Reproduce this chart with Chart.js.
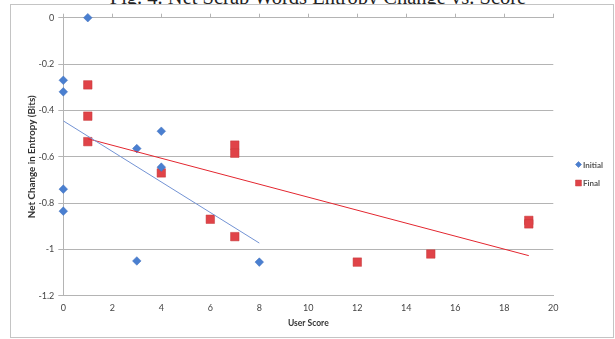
<!DOCTYPE html>
<html>
<head>
<meta charset="utf-8">
<script src="https://cdn.jsdelivr.net/npm/chart.js@4.4.0/dist/chart.umd.min.js"></script>
<style>
  body { margin: 0; background: #fff; overflow: hidden; }
  #wrap { position: relative; width: 615px; height: 339px; }
  #marco { position: absolute; left: 10px; top: 4px; width: 602px; height: 332px; border: 1px solid #c4c4c4; background: #fff; }
  #titulo { position: absolute; left: 0; top: -13px; width: 636px; text-align: center; font: 20.5px "Liberation Serif", serif; line-height: 20px; color: #222; white-space: nowrap; }
  #grafico { position: absolute; left: 0; top: 0; }
</style>
</head>
<body>
<div id="wrap">
  <div id="titulo">Fig. 4. Net Scrap Words Entropy Change vs. Score</div>
  <div id="marco"></div>
  <canvas id="grafico" width="615" height="339"></canvas>
</div>
<script>
// datos
const inicialX = [1, 0, 0, 4, 3, 4, 0, 0, 3, 8];
const inicialY = [0, -0.27, -0.32, -0.49, -0.565, -0.645, -0.74, -0.835, -1.05, -1.055];

const finalX = [1, 1, 1, 4, 6, 7, 7, 7, 12, 15, 19, 19];
const finalY = [-0.29, -0.425, -0.535, -0.67, -0.87, -0.945, -0.55, -0.585, -1.055, -1.02, -0.875, -0.89];

const ticksX = [0, 2, 4, 6, 8, 10, 12, 14, 16, 18, 20];
const ticksY = [0, -0.2, -0.4, -0.6, -0.8, -1, -1.2];

const nombres = ["Initial", "Final"];

const azul = "#4a7fd0";
const rojo = "#e04348";

function puntos(xs, ys) {
  return xs.map((x, i) => ({ x: x, y: ys[i] }));
}

// linea de tendencia (minimos cuadrados), igual que la de Excel
function tendencia(xs, ys) {
  const n = xs.length;
  const mx = xs.reduce((a, b) => a + b, 0) / n;
  const my = ys.reduce((a, b) => a + b, 0) / n;
  let sxy = 0, sxx = 0;
  xs.forEach((x, i) => {
    sxy += (x - mx) * (ys[i] - my);
    sxx += (x - mx) * (x - mx);
  });
  const m = sxy / sxx;
  const b = my - m * mx;
  const x0 = Math.min(...xs), x1 = Math.max(...xs);
  return [{ x: x0, y: m * x0 + b }, { x: x1, y: m * x1 + b }];
}

const gris = "#b4b4b4";
const letra = "Lato, 'Liberation Sans', sans-serif";

// leyenda dibujada a mano a la derecha
const leyenda = {
  id: "leyenda",
  afterDraw(chart) {
    const ctx = chart.ctx;
    ctx.save();
    ctx.font = "bold 8px " + letra;
    ctx.textBaseline = "middle";
    let y = 164.5;
    chart.data.datasets.forEach(ds => {
      if (!nombres.includes(ds.label)) return;
      ctx.fillStyle = ds.backgroundColor;
      ctx.strokeStyle = ds.borderColor;
      ctx.lineWidth = 0.5;
      Chart.helpers.drawPoint(ctx, { pointStyle: ds.pointStyle, radius: ds.pointStyle === "rect" ? 4.2 : 3, rotation: 0, borderWidth: 0.5 }, 578.5, y);
      ctx.fillStyle = "#555";
      ctx.fillText(ds.label, 583, y + 0.5);
      y += 18.5;
    });
    ctx.restore();
  }
};

new Chart(document.getElementById("grafico"), {
  type: "scatter",
  data: {
    datasets: [
      {
        label: nombres[0],
        data: puntos(inicialX, inicialY),
        pointStyle: "rectRot",
        pointRadius: 4.3,
        backgroundColor: azul,
        borderColor: "#3e6fbd",
        borderWidth: 0.5,
        clip: false,
        order: 1
      },
      {
        label: nombres[1],
        data: puntos(finalX, finalY),
        pointStyle: "rect",
        pointRadius: 6,
        backgroundColor: rojo,
        borderColor: "#c43a3a",
        borderWidth: 0.5,
        clip: false,
        order: 2
      },
      {
        label: "tendencia-inicial",
        type: "line",
        data: tendencia(inicialX, inicialY),
        borderColor: "#7393d4",
        borderWidth: 1,
        pointRadius: 0,
        fill: false,
        order: 0
      },
      {
        label: "tendencia-final",
        type: "line",
        data: tendencia(finalX, finalY),
        borderColor: "#e3262f",
        borderWidth: 1,
        pointRadius: 0,
        fill: false,
        order: 0
      }
    ]
  },
  options: {
    responsive: false,
    animation: false,
    layout: { padding: { left: 0, top: 17.7, right: 61.7, bottom: 0 } },
    plugins: {
      legend: { display: false },
      tooltip: { enabled: false }
    },
    scales: {
      x: {
        type: "linear",
        position: "bottom",
        min: 0,
        max: 20,
        afterBuildTicks: s => { s.ticks = ticksX.map(v => ({ value: v })); },
        afterFit: s => { s.height = 339 - 295.7; },
        grid: { display: false, drawTicks: false },
        border: { color: gris, width: 1 },
        ticks: { color: "#444", padding: 7, font: { family: letra, size: 9 } },
        title: {
          display: true,
          text: "User Score",
          color: "#333",
          font: { family: letra, size: 8.5, weight: "bold" },
          padding: { top: 0, bottom: 11 }
        }
      },
      x2: {
        type: "linear",
        position: "top",
        min: 0,
        max: 20,
        afterBuildTicks: s => { s.ticks = ticksX.map(v => ({ value: v })); },
        afterFit: s => { s.height = 0; },
        grid: { drawOnChartArea: false, tickLength: 4, color: gris },
        border: { display: false },
        ticks: { display: false }
      },
      y: {
        type: "linear",
        min: -1.2,
        max: 0,
        afterBuildTicks: s => { s.ticks = ticksY.map(v => ({ value: v })); },
        afterFit: s => { s.width = 63.3; },
        grid: { color: gris, tickLength: 5 },
        border: { color: gris, width: 1 },
        ticks: {
          color: "#444",
          padding: 4,
          font: { family: letra, size: 9 },
          callback: v => String(Math.round(v * 10) / 10)
        },
        title: {
          display: true,
          text: "Net Change in Entropy (Bits)",
          color: "#333",
          font: { family: letra, size: 9.8, weight: "bold" },
          padding: { top: 26.4, bottom: 0 }
        }
      }
    }
  },
  plugins: [leyenda]
});
</script>
</body>
</html>
